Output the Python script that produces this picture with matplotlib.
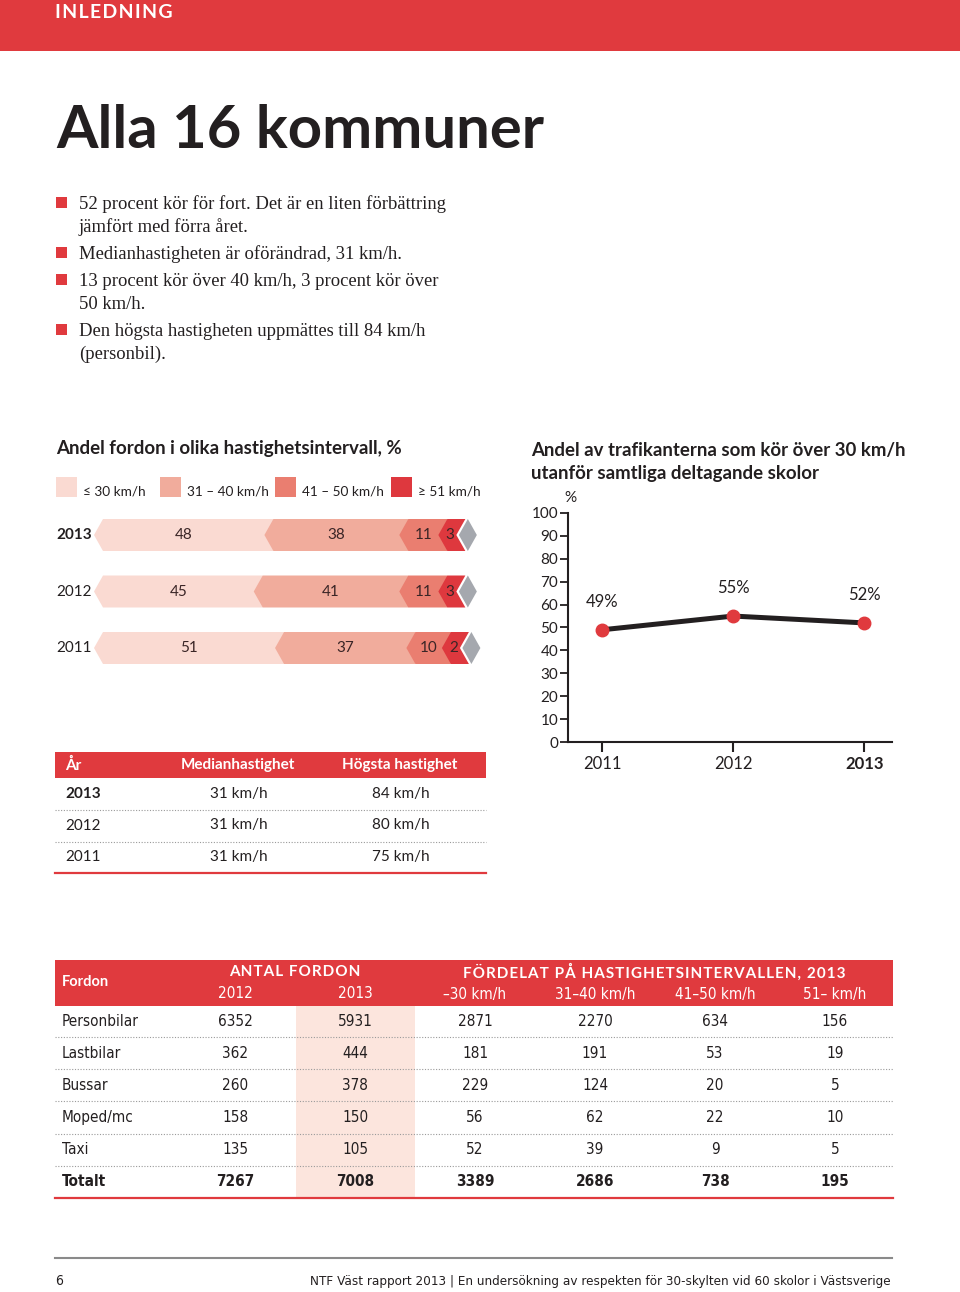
import numpy as np
import matplotlib
matplotlib.use("Agg")
import matplotlib.pyplot as plt
from matplotlib.patches import Polygon, Rectangle

# fonts
SANS = ['Lato', 'DejaVu Sans']
SERIF = ['Liberation Serif', 'DejaVu Serif']
NARROW = ['DejaVu Sans']
plt.rcParams['font.family'] = SANS

RED = '#E03A3E'
INK = '#231F20'
seg_colors = ['#FADAD2', '#F1AC9C', '#EA7E70', '#DE383E']
diamond_color = '#A5A8AE'

# data
bullets = [
    ['52 procent kör för fort. Det är en liten förbättring', 'jämfört med förra året.'],
    ['Medianhastigheten är oförändrad, 31 km/h.'],
    ['13 procent kör över 40 km/h, 3 procent kör över', '50 km/h.'],
    ['Den högsta hastigheten uppmättes till 84 km/h', '(personbil).'],
]
intervals = ['≤ 30 km/h', '31 – 40 km/h', '41 – 50 km/h', '≥ 51 km/h']
bar_years = ['2013', '2012', '2011']
share_2013 = [48, 38, 11, 3]
share_2012 = [45, 41, 11, 3]
share_2011 = [51, 37, 10, 2]

line_years = [2011, 2012, 2013]
over30 = [49, 55, 52]

speed_years = ['2013', '2012', '2011']
median_speed = ['31 km/h', '31 km/h', '31 km/h']
max_speed = ['84 km/h', '80 km/h', '75 km/h']

vehicles = ['Personbilar', 'Lastbilar', 'Bussar', 'Moped/mc', 'Taxi', 'Totalt']
count_2012 = [6352, 362, 260, 158, 135, 7267]
count_2013 = [5931, 444, 378, 150, 105, 7008]
v_30 = [2871, 181, 229, 56, 52, 3389]
v_31_40 = [2270, 191, 124, 62, 39, 2686]
v_41_50 = [634, 53, 20, 22, 9, 738]
v_51 = [156, 19, 5, 10, 5, 195]
sub_heads = ['2012', '2013', '–30 km/h', '31–40 km/h', '41–50 km/h', '51– km/h']

W, H = 960, 1292
fig = plt.figure(figsize=(W / 100, H / 100), dpi=100)


def ax_at(x, y, w, h):
    return fig.add_axes([x / W, 1 - (y + h) / H, w / W, h / H])


def spaced(s):
    # rough letter spacing with hair spaces
    return '\u200a'.join(s)


# page layer in pixel coords
page = ax_at(0, 0, W, H)
page.set_xlim(0, W)
page.set_ylim(H, 0)
page.axis('off')

page.add_patch(Rectangle((0, 0), W, 51, color=RED, lw=0))
page.text(55, 12, spaced('INLEDNING'), color='white', fontsize=14, fontweight='bold', va='center')
page.text(56, 148, 'Alla 16 kommuner', color=INK, fontsize=43, fontweight='bold', va='baseline')

# bullets
y = 209
for b in bullets:
    page.add_patch(Rectangle((56, y - 12), 11, 11, color=RED, lw=0))
    for line in b:
        page.text(79, y, line, family=SERIF, fontsize=13.4, color=INK, va='baseline')
        y += 23
    y += 4

# chart titles
page.text(56, 454, 'Andel fordon i olika hastighetsintervall, %', fontsize=13.5,
          fontweight='bold', color=INK, va='baseline')
page.text(531, 456, 'Andel av trafikanterna som kör över 30 km/h', fontsize=13.4,
          fontweight='bold', color=INK, va='baseline')
page.text(531, 479, 'utanför samtliga deltagande skolor', fontsize=13.4,
          fontweight='bold', color=INK, va='baseline')

# legend
leg_x = [56, 160, 275, 391]
for lx, lab, c in zip(leg_x, intervals, seg_colors):
    page.add_patch(Rectangle((lx, 477), 21, 20, color=c, lw=0))
    page.text(lx + 27, 491, lab, fontsize=9.8, color=INK, va='center')

for i, yr in enumerate(bar_years):
    page.text(56, 535 + 56.5 * i, yr, fontsize=11, color=INK, va='center',
              fontweight='bold' if i == 0 else 'normal')

# chevron bars
px = 3.55  # pixels per percent
bx0 = 103
axb = ax_at(90, 510, 400, 165)
axb.set_xlim((90 - bx0) / px, (490 - bx0) / px)
axb.set_ylim((675 - 535) / 56.5, (510 - 535) / 56.5)
axb.axis('off')
d = 9 / px
hh = 16 / 56.5
gap = 2.5 / px
for row, vals in enumerate([share_2013, share_2012, share_2011]):
    x0 = 0
    top, bot = row - hh, row + hh
    for k, v in enumerate(vals):
        w = v if k < 3 else max(v, 18 / px)
        x1 = x0 + w
        if k < 3:
            pts = [(x0, top), (x1, top), (x1, bot), (x0, bot), (x0 - d, row)]
            lx = (x0 - d + x1) / 2
        else:
            pts = [(x0, top), (x1, top), (x1 - d, row), (x1, bot), (x0, bot), (x0 - d, row)]
            lx = (x0 - d + x1) / 2 - 0.2 * d
        axb.add_patch(Polygon(pts, closed=True, color=seg_colors[k], lw=0, zorder=2 + k))
        axb.text(lx, row, str(v), ha='center', va='center', fontsize=11, color='#3A2526', zorder=10)
        x0 = x1
    dia = [(x0 - d + gap, row), (x0 + gap, top), (x0 + d + gap, row), (x0 + gap, bot)]
    axb.add_patch(Polygon(dia, closed=True, color=diamond_color, lw=0, zorder=8))

# small table
page.add_patch(Rectangle((55, 752), 431, 26, color=RED, lw=0))
for hx, ht in zip([65, 181, 342], ['År', 'Medianhastighet', 'Högsta hastighet']):
    page.text(hx, 765, ht, color='white', fontsize=11, fontweight='bold', va='center')
for i in range(3):
    ry = 794 + 31.5 * i
    page.text(65, ry, speed_years[i], fontsize=11, color=INK, va='center',
              fontweight='bold' if i == 0 else 'normal')
    page.text(210, ry, median_speed[i], fontsize=11, color=INK, va='center')
    page.text(372, ry, max_speed[i], fontsize=11, color=INK, va='center')
    if i < 2:
        page.plot([55, 486], [ry + 16, ry + 16], color='#9A9A9A', lw=0.8, ls=(0, (1, 1.5)))
page.plot([55, 486], [873, 873], color=RED, lw=1.6)

# line chart
axl = ax_at(568, 513, 324, 229)
axl.plot(line_years, over30, color=INK, lw=3.6, marker='o', ms=9,
         mfc=RED, mec=RED, zorder=3, clip_on=False)
for yr, v in zip(line_years, over30):
    axl.annotate(f'{v}%', (yr, v), xytext=(0, 20), textcoords='offset points',
                 ha='center', va='center', fontsize=12, color=INK)
axl.set_xlim(2010.74, 2013.21)
axl.set_ylim(0, 100)
axl.set_yticks(range(0, 101, 10))
axl.set_xticks(line_years)
axl.set_xticklabels([str(y) for y in line_years])
axl.get_xticklabels()[-1].set_fontweight('bold')
for s in ['top', 'right']:
    axl.spines[s].set_visible(False)
for s in ['left', 'bottom']:
    axl.spines[s].set_linewidth(1.5)
    axl.spines[s].set_color(INK)
axl.tick_params(axis='y', direction='out', length=6, width=1.3, labelsize=11, pad=1, colors=INK)
axl.tick_params(axis='x', direction='out', length=7, width=1.5, labelsize=12, pad=3, colors=INK)
axl.patch.set_alpha(0)
page.text(570, 498, '%', fontsize=11, color=INK, ha='center', va='center')

# big table
cols = [235, 355, 475, 595, 715, 835]
page.add_patch(Rectangle((55, 960), 838, 46, color=RED, lw=0))
page.add_patch(Rectangle((296, 1006), 119, 191, color='#FCE5DD', lw=0))
page.text(62, 982, 'Fordon', color='white', fontsize=10.5, fontweight='bold', va='center')
page.text(295, 972, spaced('ANTAL FORDON'), color='white', fontsize=11, fontweight='bold',
          ha='center', va='center')
page.text(654, 972, spaced('FÖRDELAT PÅ HASTIGHETSINTERVALLEN, 2013'), color='white',
          fontsize=11, fontweight='bold', ha='center', va='center')
for cx, sh in zip(cols, sub_heads):
    page.text(cx, 994, sh, family=NARROW, fontstretch='condensed', color='white',
              fontsize=11, ha='center', va='center')

table_cols = [count_2012, count_2013, v_30, v_31_40, v_41_50, v_51]
for i, name in enumerate(vehicles):
    ry = 1021 + 32.2 * i
    wt = 'bold' if name == 'Totalt' else 'normal'
    page.text(62, ry, name, family=NARROW, fontstretch='condensed', fontsize=11,
              color=INK, va='center', fontweight=wt)
    for cx, col in zip(cols, table_cols):
        page.text(cx, ry, str(col[i]), family=NARROW, fontstretch='condensed', fontsize=11,
                  color=INK, ha='center', va='center', fontweight=wt)
    if i < len(vehicles) - 1:
        page.plot([55, 893], [ry + 16, ry + 16], color='#9A9A9A', lw=0.8, ls=(0, (1, 1.5)))
page.plot([55, 893], [1198, 1198], color=RED, lw=1.6)

# footer
page.plot([55, 892], [1258, 1258], color='#8A8A8A', lw=1.5)
page.text(55, 1281, '6', family=NARROW, fontstretch='condensed', fontsize=10,
          color=INK, va='center')
page.text(891, 1281, 'NTF Väst rapport 2013 | En undersökning av respekten för 30-skylten vid 60 skolor i Västsverige',
          family=NARROW, fontstretch='condensed', fontsize=9.6, color=INK, ha='right', va='center')

fig.savefig('out.png', dpi=100)
